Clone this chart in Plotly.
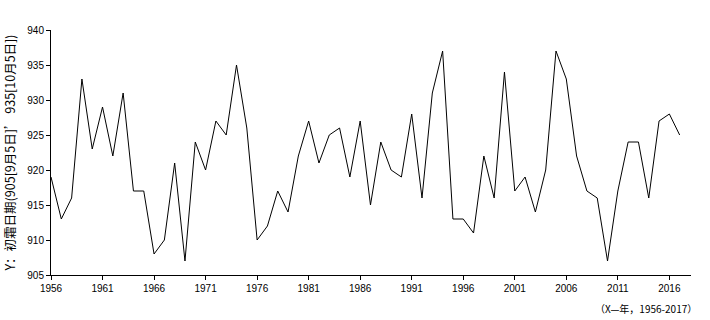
import plotly.graph_objects as go

years = list(range(1956, 2018))
values = [
    919, 913, 916, 933, 923, 929, 922, 931, 917, 917,
    908, 910, 921, 907, 924, 920, 927, 925, 935, 926,
    910, 912, 917, 914, 922, 927, 921, 925, 926, 919,
    927, 915, 924, 920, 919, 928, 916, 931, 937, 913,
    913, 911, 922, 916, 934, 917, 919, 914, 920, 937,
    933, 922, 917, 916, 907, 917, 924, 924, 916, 927,
    928, 925,
]
x_ticks = list(range(1956, 2018, 5))
y_ticks = [905, 910, 915, 920, 925, 930, 935, 940]
y_title = "Y：初霜日期(905[9月5日]’ 935[10月5日])"
x_note = "（X—年，1956-2017）"

font_family = "Liberation Sans, Noto Sans CJK SC, sans-serif"

fig = go.Figure()
fig.add_trace(go.Scatter(
    x=years, y=values, mode="lines",
    line=dict(color="black", width=1),
    showlegend=False, hoverinfo="skip",
))

fig.update_layout(
    width=710, height=320,
    margin=dict(l=51, r=19, t=30, b=45),
    paper_bgcolor="white", plot_bgcolor="white",
    font=dict(family=font_family, size=10, color="black"),
)
fig.update_xaxes(
    range=[1956, 2018.1], tickvals=x_ticks,
    ticktext=[str(t) for t in x_ticks],
    showgrid=False, zeroline=False,
    showline=True, linecolor="black", linewidth=1,
    ticks="outside", ticklen=4, tickcolor="black", tickwidth=1,
    tickfont=dict(size=10, family=font_family),
)
fig.update_yaxes(
    range=[905, 940], tickvals=y_ticks,
    showgrid=False, zeroline=False,
    showline=True, linecolor="black", linewidth=1,
    ticks="outside", ticklen=4, tickcolor="black", tickwidth=1,
    tickfont=dict(size=10, family=font_family),
    title=dict(text=y_title, font=dict(size=12.5, family="Noto Sans CJK SC"), standoff=8),
)
fig.add_annotation(
    text=x_note, xref="paper", yref="paper",
    x=1.0, y=0, xanchor="right", yanchor="top", yshift=-24, xshift=8,
    showarrow=False, font=dict(size=10, family="Noto Sans CJK SC", color="black"),
)

fig.write_html("out.html")
